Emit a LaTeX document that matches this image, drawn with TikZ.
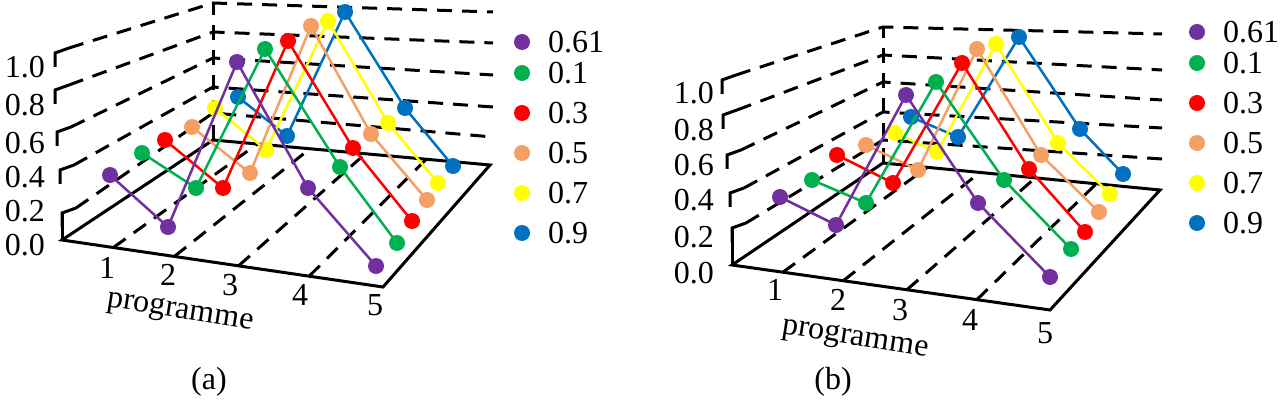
\documentclass[tikz,border=0pt]{standalone}
\usepackage{fontspec}
\setmainfont{Liberation Serif}
\usetikzlibrary{calc}
\definecolor{cpurple}{HTML}{7030A0}
\definecolor{cgreen}{HTML}{00B050}
\definecolor{cred}{HTML}{FF0000}
\definecolor{corange}{HTML}{F4A064}
\definecolor{cyellow}{HTML}{FFFF00}
\definecolor{cblue}{HTML}{0070C0}
\tikzstyle{gridline}=[line width=3pt,dash pattern=on 15pt off 10pt]
\tikzstyle{axisline}=[line width=3pt]
\tikzstyle{serie}=[line width=2.5pt]
\tikzstyle{dot}=[circle,inner sep=0pt,minimum size=16pt]
\tikzstyle{lab}=[inner sep=0pt,font=\rmfamily\fontsize{32}{32}\selectfont]

\begin{document}
\begin{tikzpicture}[x=1pt,y=-1pt]
	\useasboundingbox (0,0) rectangle (1287,406);

	% panel corners: origin, front right, back left, back right
	\coordinate (aO) at (62,240);  \coordinate (aF) at (383,287);
	\coordinate (aL) at (213,140); \coordinate (aB) at (490,165);
	\coordinate (bO) at (732,265); \coordinate (bF) at (1050,310);
	\coordinate (bL) at (883,163); \coordinate (bB) at (1160,190);

	% floor
	\foreach \p in {a,b} {
		\draw[axisline] (\p L) -- (\p O) -- (\p F) -- (\p B) -- (\p L);
		\foreach \f in {0.16,0.35,0.55,0.77}
			\draw[gridline] ($(\p O)!\f!(\p F)$) -- ($(\p L)!\f!(\p B)$);
	};

	% walls of (a)
	\draw[axisline] (aO) -- (62,213);
	\draw[gridline] (aL) -- (213,3);
	\foreach \lx/\ly/\by/\ry in {62/213/113/137, 60/170/87/107, 57/132/58/75, 55/90/32/43, 55/53/3/12} {
		\draw[axisline] (\lx,\ly+14) -- (\lx,\ly) -- (\lx+14,\ly-5);
		\draw[gridline] (\lx+14,\ly-5) -- (213,\by) -- (493,\ry);
	};
	% walls of (b)
	\draw[axisline] (bO) -- (732,228);
	\draw[gridline] (bL) -- (883,27);
	\foreach \lx/\ly/\by/\ry in {732/228/140/159, 730/193/112/128, 727/155/82/100, 723/115/55/70, 722/80/27/34} {
		\draw[axisline] (\lx,\ly+14) -- (\lx,\ly) -- (\lx+14,\ly-5);
		\draw[gridline] (\lx+14,\ly-5) -- (883,\by) -- (1162,\ry);
	};

	% value labels
	\foreach \v/\ya/\yb in {1.0/67/93, 0.8/105/130, 0.6/143/165, 0.4/177/200, 0.2/211/237, 0.0/245/273} {
		\node[lab,anchor=east] (va\ya) at (45,\ya) {\v};
		\node[lab,anchor=east] (vb\yb) at (714,\yb) {\v};
	};
	% programme labels
	\foreach \n/\xa/\ya/\xb/\yb in {1/107/268/775/290, 2/168/275/838/300, 3/230/285/900/310, 4/300/295/970/320, 5/375/305/1045/333} {
		\node[lab] (pa\n) at (\xa,\ya) {\n};
		\node[lab] (pb\n) at (\xb,\yb) {\n};
	};
	\node[lab,rotate=-9] (namea) at (180,313) {programme};
	\node[lab,rotate=-9] (nameb) at (855,340) {programme};
	\node[lab] (capa) at (209,382) {(a)};
	\node[lab] (capb) at (833,382) {(b)};

	% series of (a)
	\foreach \s/\col/\xa/\ya/\xb/\yb/\xc/\yc/\xd/\yd/\xe/\ye in {
		6/cblue/238/97/287/136/345/12/405/108/453/166,
		5/cyellow/215/108/266/150/328/21/388/123/438/183,
		4/corange/192/127/250/173/311/26/371/134/427/200,
		3/cred/165/140/223/188/288/41/353/148/412/221,
		2/cgreen/142/153/196/188/265/49/340/167/397/243,
		1/cpurple/110/175/168/227/237/62/308/188/376/266} {
		\coordinate (a\s-1) at (\xa,\ya); \coordinate (a\s-2) at (\xb,\yb);
		\coordinate (a\s-3) at (\xc,\yc); \coordinate (a\s-4) at (\xd,\yd);
		\coordinate (a\s-5) at (\xe,\ye);
		\draw[serie,\col] (a\s-1) -- (a\s-2) -- (a\s-3) -- (a\s-4) -- (a\s-5);
		\foreach \i in {1,...,5}
			\node[dot,fill=\col] (da\s-\i) at (a\s-\i) {};
	};
	% series of (b)
	\foreach \s/\col/\xa/\ya/\xb/\yb/\xc/\yc/\xd/\yd/\xe/\ye in {
		6/cblue/911/117/958/137/1019/37/1080/129/1123/174,
		5/cyellow/895/133/937/152/996/44/1058/143/1110/194,
		4/corange/866/145/918/170/977/49/1041/155/1099/212,
		3/cred/837/155/893/183/962/63/1029/169/1085/232,
		2/cgreen/812/180/866/203/936/82/1004/180/1071/249,
		1/cpurple/780/197/836/225/906/95/978/203/1050/277} {
		\coordinate (b\s-1) at (\xa,\ya); \coordinate (b\s-2) at (\xb,\yb);
		\coordinate (b\s-3) at (\xc,\yc); \coordinate (b\s-4) at (\xd,\yd);
		\coordinate (b\s-5) at (\xe,\ye);
		\draw[serie,\col] (b\s-1) -- (b\s-2) -- (b\s-3) -- (b\s-4) -- (b\s-5);
		\foreach \i in {1,...,5}
			\node[dot,fill=\col] (db\s-\i) at (b\s-\i) {};
	};

	% legends
	\foreach \col/\v/\ya/\yb in {cpurple/0.61/42/32, cgreen/0.1/73/63, cred/0.3/113/103, corange/0.5/153/143, cyellow/0.7/193/183, cblue/0.9/233/223} {
		\node[dot,fill=\col] (la\v) at (522,\ya) {};
		\node[lab,anchor=west] (ta\v) at (548,\ya) {\v};
		\node[dot,fill=\col] (lb\v) at (1197,\yb) {};
		\node[lab,anchor=west] (tb\v) at (1223,\yb) {\v};
	};
\end{tikzpicture}
\end{document}
